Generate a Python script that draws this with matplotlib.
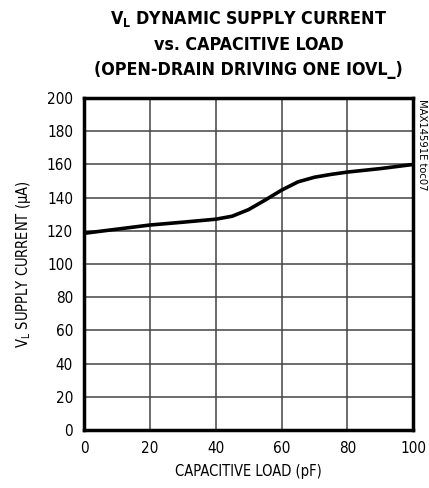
import matplotlib
matplotlib.use("Agg")
import matplotlib.pyplot as plt

plt.rcParams['font.family'] = ['DejaVu Sans']
plt.rcParams['font.stretch'] = 'condensed'

cap_load = [0, 10, 20, 30, 40, 45, 50, 55, 60, 65, 70, 75, 80, 90, 100]
supply_current = [118.5, 121, 123.5, 125.2, 127, 128.8, 132.8, 138.5, 144.5, 149.5, 152.3, 154, 155.4, 157.5, 160]

x_ticks = [0, 20, 40, 60, 80, 100]
y_ticks = list(range(0, 201, 20))

fig = plt.figure(figsize=(4.29, 4.88), dpi=100)
ax = fig.add_axes([0.196, 0.119, 0.767, 0.680])

ax.plot(cap_load, supply_current, color='black', linewidth=2.6,
        solid_capstyle='round', solid_joinstyle='round')

ax.set_xlim(0, 100)
ax.set_ylim(0, 200)
ax.set_xticks(x_ticks)
ax.set_yticks(y_ticks)
ax.tick_params(length=0, labelsize=11, pad=8)
ax.grid(True, color='#444444', linewidth=1.1)
ax.set_axisbelow(True)
for s in ax.spines.values():
    s.set_linewidth(2.5)

ax.set_xlabel('CAPACITIVE LOAD (pF)', fontsize=10.5, labelpad=6)
ax.set_ylabel('V$_\\mathregular{L}$ SUPPLY CURRENT (\u00b5A)', fontsize=10.5, labelpad=10)

fig.text(0.58, 0.982, 'V$_\\mathregular{L}$ DYNAMIC SUPPLY CURRENT\nvs. CAPACITIVE LOAD\n(OPEN-DRAIN DRIVING ONE IOVL_)',
         ha='center', va='top', fontsize=12.8, fontweight='heavy', linespacing=1.5)

fig.text(0.984, 0.797, 'MAX14591E toc07', rotation=270, ha='center', va='top', fontsize=8)

fig.savefig('out.png', dpi=100)
